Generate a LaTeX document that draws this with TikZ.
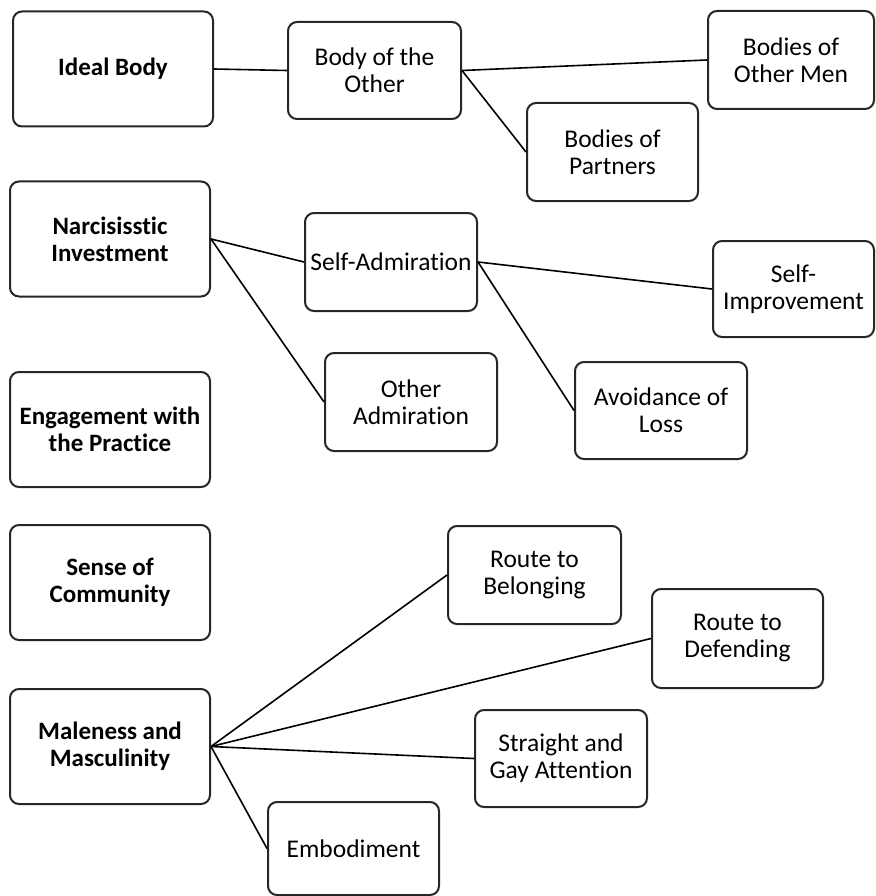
\documentclass[tikz,border=0pt]{standalone}
\usepackage{fontspec}
\setmainfont{Carlito}[Ligatures=NoCommon]
\begin{document}
\begin{tikzpicture}[x=1pt,y=-1pt,
  box/.style={draw=black!85, line width=2pt, rounded corners=9pt, inner sep=0pt, align=center,
    font=\fontsize{25.5}{27}\selectfont},
  main/.style={box, font=\fontsize{25}{27}\selectfont\bfseries, minimum width=200pt, minimum height=115pt},
  sub/.style={box, minimum width=172pt, minimum height=97pt},
  link/.style={line width=1.6pt, black}]
\useasboundingbox (0,0) rectangle (875,896);
% main themes
\node[main] (ideal) at (113,69) {Ideal Body};
\node[main] (narc) at (110,239) {Narcisisstic\\Investment};
\node[main] (engage) at (110,429.5) {Engagement with\\the Practice};
\node[main] (sense) at (110,582.5) {Sense of\\Community};
\node[main] (male) at (110,746.5) {Maleness and\\Masculinity};
% sub themes
\node[sub, minimum width=173pt] (bother) at (374.5,70.5) {Body of the\\Other};
\node[sub, minimum width=166pt, minimum height=98pt] (omen) at (791,60) {Bodies of\\Other Men};
\node[sub, minimum width=171pt, minimum height=98pt] (partners) at (612.5,152) {Bodies of\\Partners};
\node[sub, minimum height=98pt] (selfadm) at (391,262) {Self-Admiration};
\node[sub, minimum width=161pt, minimum height=96pt] (selfimp) at (793.5,289) {Self-\\Improvement};
\node[sub, minimum height=98pt] (otheradm) at (411,402) {Other\\Admiration};
\node[sub] (avoid) at (661,410.5) {Avoidance of\\Loss};
\node[sub, minimum width=173pt, minimum height=98pt] (belong) at (534.5,575) {Route to\\Belonging};
\node[sub, minimum width=171pt, minimum height=99pt] (defend) at (737.5,638.5) {Route to\\Defending};
\node[sub] (straight) at (561,758.5) {Straight and\\Gay Attention};
\node[sub, minimum width=171pt, minimum height=93pt] (embod) at (353.5,848.5) {Embodiment};
% connectors
\draw[link] (ideal.east) -- (bother.west);
\draw[link] (bother.east) -- (omen.west);
\draw[link] (bother.east) -- (partners.west);
\draw[link] (narc.east) -- (selfadm.west);
\draw[link] (narc.east) -- (otheradm.west);
\draw[link] (selfadm.east) -- (selfimp.west);
\draw[link] (selfadm.east) -- (avoid.west);
\draw[link] (male.east) -- (belong.west);
\draw[link] (male.east) -- (defend.west);
\draw[link] (male.east) -- (straight.west);
\draw[link] (male.east) -- (embod.west);
\end{tikzpicture}
\end{document}
